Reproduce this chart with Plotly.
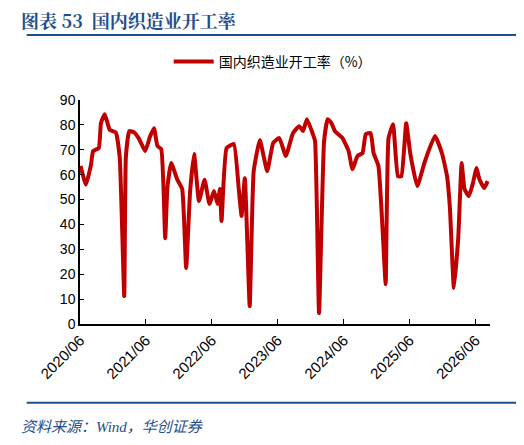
import plotly.graph_objects as go

dates = ["2020-06-04","2020-07-04","2020-08-01","2020-08-13","2020-09-13","2020-09-25","2020-10-16","2020-11-13","2020-12-16","2021-01-07","2021-02-01","2021-02-10","2021-03-01","2021-03-28","2021-04-25","2021-05-28","2021-06-25","2021-07-16","2021-08-04","2021-08-25","2021-09-16","2021-09-28","2021-10-19","2021-11-22","2021-12-19","2022-01-10","2022-02-01","2022-02-23","2022-03-22","2022-04-22","2022-05-19","2022-06-13","2022-07-04","2022-07-16","2022-07-25","2022-08-22","2022-10-01","2022-10-28","2022-11-13","2022-12-01","2022-12-28","2023-01-19","2023-02-22","2023-04-04","2023-05-07","2023-06-10","2023-07-16","2023-08-25","2023-09-28","2023-10-19","2023-11-10","2023-12-13","2023-12-25","2024-01-16","2024-02-13","2024-03-04","2024-03-25","2024-04-13","2024-05-25","2024-06-28","2024-07-19","2024-08-16","2024-09-13","2024-10-01","2024-10-28","2024-11-13","2024-12-10","2025-01-04","2025-01-19","2025-02-04","2025-03-01","2025-03-28","2025-04-16","2025-05-13","2025-06-04","2025-07-13","2025-08-25","2025-10-19","2025-11-28","2025-12-25","2026-01-10","2026-02-01","2026-02-25","2026-03-16","2026-04-01","2026-04-25","2026-05-16","2026-06-07","2026-06-22","2026-07-19","2026-08-07"]
values = [63.5,56,64,69.5,70.7,80.7,84.3,78,77,67,11.2,67,77.5,77,74.3,69.5,75.5,78.7,71.5,70.3,34.5,54.6,64.7,58,54.2,22.5,53.4,68.3,49.4,58,48.2,53.4,48.2,54.2,41.4,70.7,72.3,54.6,43.4,58.6,7.2,61.4,73.9,61.4,72.7,74.7,67.5,76.7,79.5,77.5,82.3,76.3,73.5,4.4,73.5,82.3,80.7,77.5,74.7,69.5,62.2,67.5,68.7,76.3,76.7,68.7,63.5,35.3,16,74.7,80.3,59.4,59.4,80.7,68.7,55.4,65.5,75.5,68.3,59.4,46.6,14.5,34.5,64.7,54.2,51.4,56.2,62.7,58.2,54.6,57.4]
tick_vals = ["2020-06-01","2021-06-01","2022-06-01","2023-06-01","2024-06-01","2025-06-01","2026-06-01"]
tick_text = ["2020/06","2021/06","2022/06","2023/06","2024/06","2025/06","2026/06"]
series_name = "国内织造业开工率（%）"

navy = "#1f4e8c"
fig = go.Figure(go.Scatter(x=dates, y=values, mode="lines", name=series_name,
                           line=dict(color="#c00000", width=4, shape="spline", smoothing=0.4)))
fig.update_layout(
    width=524, height=445, paper_bgcolor="white", plot_bgcolor="white",
    margin=dict(l=72, r=42, t=92, b=129),
    font=dict(family="Noto Sans CJK SC, sans-serif", size=14, color="#000"),
    showlegend=True,
    legend=dict(orientation="h", x=0.47, xanchor="center", y=1.17, yanchor="middle",
                font=dict(size=14), itemwidth=40),
    xaxis=dict(range=["2020-06-01","2026-08-20"], tickvals=tick_vals, ticktext=tick_text,
               tickangle=-45, ticks="inside", ticklen=5, tickcolor="#000",
               showline=True, linecolor="#000", linewidth=1.5, showgrid=False,
               tickfont=dict(family="Liberation Sans, Arial", size=15)),
    yaxis=dict(range=[0, 90], dtick=10, ticks="inside", ticklen=4, tickcolor="#000",
               showline=True, linecolor="#000", linewidth=1.5, showgrid=False, zeroline=False,
               tickfont=dict(family="Liberation Sans, Arial", size=14)),
    shapes=[
        dict(type="line", xref="paper", yref="paper", x0=-0.13, x1=1.09, y0=1.29, y1=1.29,
             line=dict(color=navy, width=2)),
        dict(type="line", xref="paper", yref="paper", x0=-0.13, x1=1.09, y0=-0.352, y1=-0.352,
             line=dict(color=navy, width=2)),
    ],
    annotations=[
        dict(text="<b>图表 53  国内织造业开工率</b>", xref="paper", yref="paper", x=-0.15, y=1.355,
             xanchor="left", yanchor="middle", showarrow=False,
             font=dict(family="Noto Serif CJK SC, Noto Sans CJK SC, serif", size=18, color=navy)),
        dict(text="<i>资料来源：Wind，华创证券</i>", xref="paper", yref="paper", x=-0.15, y=-0.46,
             xanchor="left", yanchor="middle", showarrow=False,
             font=dict(family="Liberation Serif, Noto Sans CJK SC, serif", size=15, color=navy)),
    ],
)
fig.write_html("out.html")
